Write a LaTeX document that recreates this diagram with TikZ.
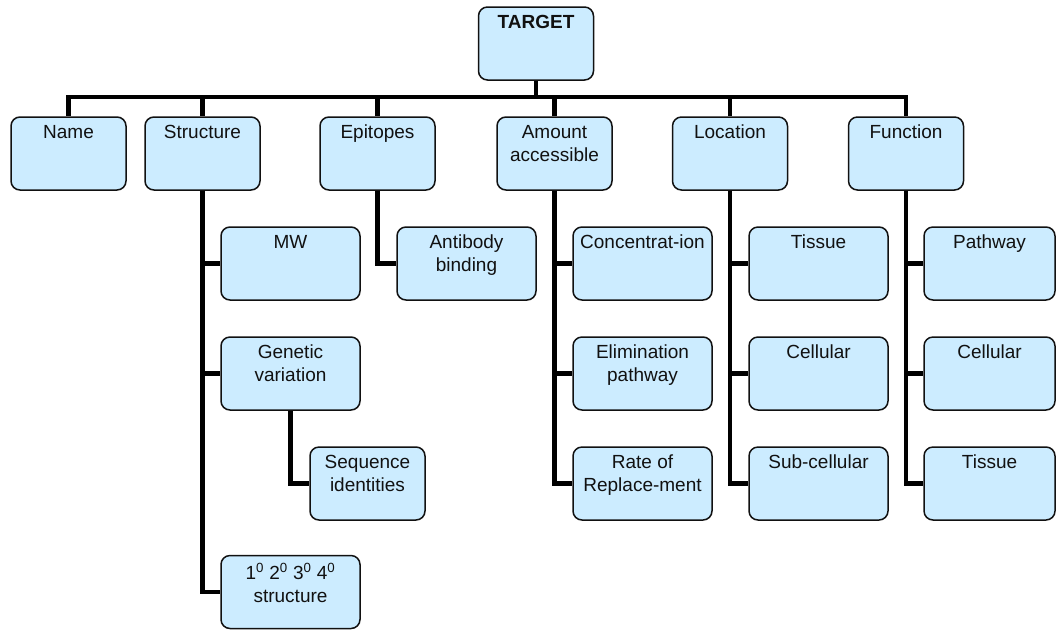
\documentclass[tikz,border=0pt]{standalone}
\usepackage{fontspec}
\setmainfont{Liberation Sans}
\usetikzlibrary{backgrounds}
\definecolor{targetfill}{HTML}{CCECFF}
\definecolor{targetline}{HTML}{111111}

\begin{document}
\begin{tikzpicture}[
  x=1pt, y=-1pt,
  bx/.style={draw=targetline, line width=1.5pt, fill=targetfill, rounded corners=9pt, minimum width=115pt, minimum height=73pt, inner sep=0pt, label={[lbl]north:#1}},
  sub/.style={bx={#1}, minimum width=139pt},
  lbl/.style={anchor=north, align=center, inner sep=0pt, yshift=-8.5pt, font=\fontsize{19}{23}\selectfont, text=targetline},
  conn/.style={line width=4.5pt, black}
]
\useasboundingbox (0,0) rectangle (1056,630);

% root
\node[bx={\textbf{TARGET}}] (target) at (536,43.5) {};

% first level
\node[bx=Name] (name) at (68.5,153.5) {};
\node[bx=Structure] (struct) at (202.5,153.5) {};
\node[bx=Epitopes] (epit) at (377.5,153.5) {};
\node[bx={Amount\\accessible}] (amount) at (554.5,153.5) {};
\node[bx=Location] (loc) at (730,153.5) {};
\node[bx=Function] (func) at (906,153.5) {};

% structure branch
\node[sub=MW] (mw) at (290.5,263.5) {};
\node[sub={Genetic\\variation}] (genvar) at (290.5,373.5) {};
\node[bx={Sequence\\identities}] (seq) at (367.5,483.5) {};
\node[sub={1\textsuperscript{0} 2\textsuperscript{0} 3\textsuperscript{0} 4\textsuperscript{0}\\structure}] (prim) at (290.5,592) {};

% epitopes branch
\node[sub={Antibody\\binding}] (antib) at (466.5,263.5) {};

% amount branch
\node[sub=Concentrat-ion] (conc) at (642.5,263.5) {};
\node[sub={Elimination\\pathway}] (elim) at (642.5,373.5) {};
\node[sub={Rate of\\Replace-ment}] (repl) at (642.5,483.5) {};

% location branch
\node[sub=Tissue] (ltis) at (818.5,263.5) {};
\node[sub=Cellular] (lcel) at (818.5,373.5) {};
\node[sub=Sub-cellular] (lsub) at (818.5,483.5) {};

% function branch
\node[sub=Pathway, minimum width=131pt] (fpath) at (989.5,263.5) {};
\node[sub=Cellular, minimum width=131pt] (fcel) at (989.5,373.5) {};
\node[sub=Tissue, minimum width=131pt] (ftis) at (989.5,483.5) {};

% connectors
\coordinate (hub) at (536,97);
\draw[conn] (target.south) -- (hub);
\foreach \n in {name,struct,epit,amount,loc,func}
  \draw[conn] (hub) -| (\n.north);

\foreach \c in {mw,genvar,prim}
  \draw[conn] (struct.south) |- (\c.west);
\draw[conn] (genvar.south) |- (seq.west);
\draw[conn] (epit.south) |- (antib.west);
\foreach \c in {conc,elim,repl}
  \draw[conn] (amount.south) |- (\c.west);
\foreach \c in {ltis,lcel,lsub}
  \draw[conn] (loc.south) |- (\c.west);
\foreach \c in {fpath,fcel,ftis}
  \draw[conn] (func.south) |- (\c.west);
\end{tikzpicture}
\end{document}
